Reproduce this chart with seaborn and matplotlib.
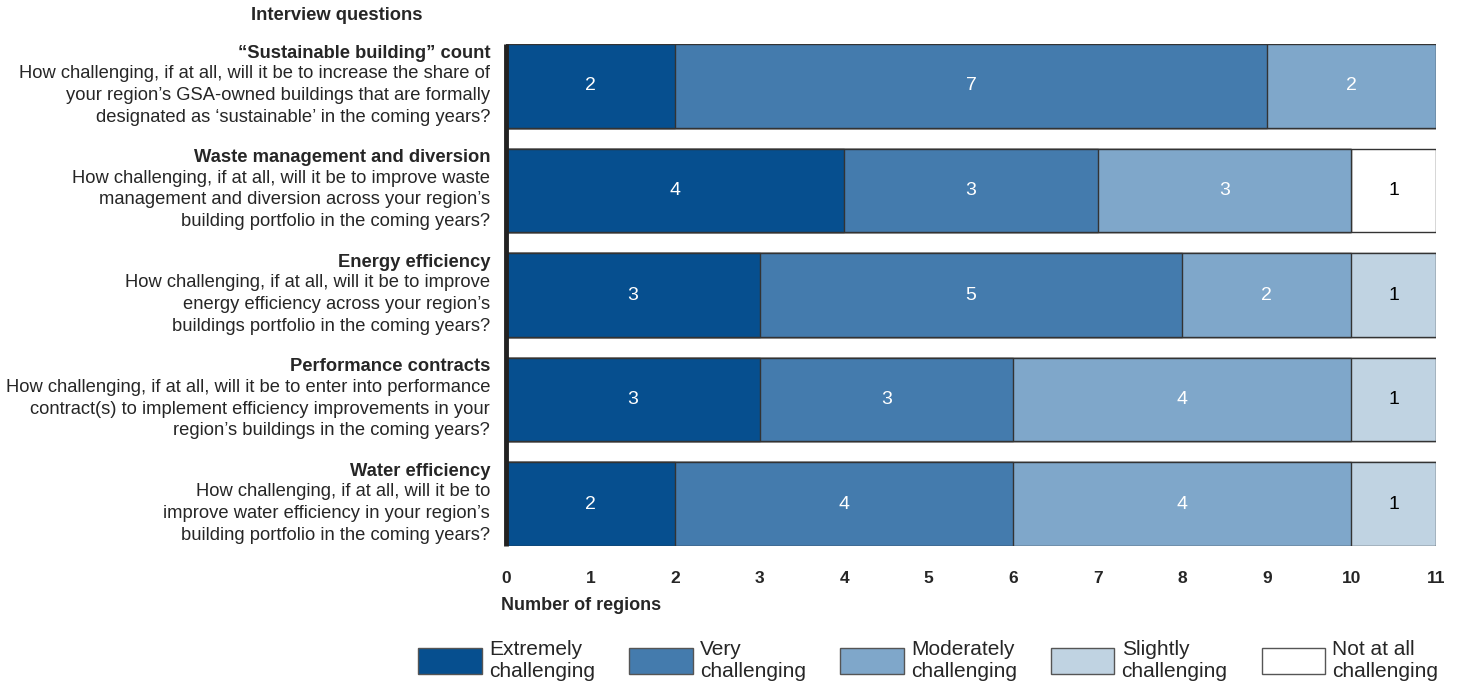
"""Stacked bar chart of interview responses on sustainability challenges."""

import matplotlib.pyplot as plt
import numpy as np
import pandas as pd
import seaborn as sns
from matplotlib.patches import Patch

sns.set_theme(style="white")
plt.rcParams["font.family"] = ["Liberation Sans", "DejaVu Sans"]

TOPICS = [
    "\u201cSustainable building\u201d count",
    "Waste management and diversion",
    "Energy efficiency",
    "Performance contracts",
    "Water efficiency",
]
QUESTIONS = [
    "How challenging, if at all, will it be to increase the share of\n"
    "your region\u2019s GSA-owned buildings that are formally\n"
    "designated as \u2018sustainable\u2019 in the coming years?",
    "How challenging, if at all, will it be to improve waste\n"
    "management and diversion across your region\u2019s\n"
    "building portfolio in the coming years?",
    "How challenging, if at all, will it be to improve\n"
    "energy efficiency across your region\u2019s\n"
    "buildings portfolio in the coming years?",
    "How challenging, if at all, will it be to enter into performance\n"
    "contract(s) to implement efficiency improvements in your\n"
    "region\u2019s buildings in the coming years?",
    "How challenging, if at all, will it be to\n"
    "improve water efficiency in your region\u2019s\n"
    "building portfolio in the coming years?",
]
LEVELS = [
    "Extremely\nchallenging",
    "Very\nchallenging",
    "Moderately\nchallenging",
    "Slightly\nchallenging",
    "Not at all\nchallenging",
]
extremely = [2, 4, 3, 3, 2]
very = [7, 3, 5, 3, 4]
moderately = [2, 3, 2, 4, 4]
slightly = [0, 0, 1, 1, 1]
not_at_all = [0, 1, 0, 0, 0]

COLORS = ["#064F8F", "#447BAD", "#7FA7CA", "#C0D3E2", "#FFFFFF"]
TEXT_COLORS = ["white", "white", "white", "black", "black"]

counts = np.array([extremely, very, moderately, slightly, not_at_all])
cumulative = counts.cumsum(axis=0)

fig = plt.figure(figsize=(14.6, 6.87), dpi=100)
ax = fig.add_axes([506 / 1460, 1 - 546 / 687, 930 / 1460, 502 / 687])

# overlay cumulative bars, widest first, so each level shows as a segment
for i in range(len(LEVELS) - 1, -1, -1):
    df = pd.DataFrame({"topic": TOPICS, "value": cumulative[i]})
    sns.barplot(
        data=df, x="value", y="topic", orient="h", color=COLORS[i],
        saturation=1, width=0.8, edgecolor="#333333", linewidth=1, ax=ax,
    )

for i in range(len(LEVELS)):
    starts = cumulative[i] - counts[i]
    for row, (start, n) in enumerate(zip(starts, counts[i])):
        if n > 0:
            ax.text(start + n / 2, row, str(n), ha="center", va="center",
                    fontsize=14, color=TEXT_COLORS[i])

ax.set_xlim(0, 11)
ax.set_ylim(4.4, -0.4)
ax.set_xticks(range(12))
ax.tick_params(axis="x", length=0, pad=18, labelsize=12.5)
for lbl in ax.get_xticklabels():
    lbl.set_fontweight("bold")
ax.set_yticks([])
ax.set_xlabel("")
ax.set_ylabel("")
for side in ["top", "right", "bottom"]:
    ax.spines[side].set_visible(False)
ax.spines["left"].set_linewidth(3.5)
ax.spines["left"].set_color("#222222")
ax.spines["left"].set_capstyle("butt")
ax.spines["left"].set_zorder(5)

# question labels on the left
for row, (topic, question) in enumerate(zip(TOPICS, QUESTIONS)):
    ax.annotate(topic, xy=(0, row - 0.4), xycoords=("axes fraction", "data"),
                xytext=(-16, -9), textcoords="offset pixels", ha="right",
                va="center", fontsize=13.2, fontweight="bold")
    ax.annotate(question, xy=(0, row - 0.4), xycoords=("axes fraction", "data"),
                xytext=(-16, -21), textcoords="offset pixels", ha="right",
                va="top", fontsize=13.2, linespacing=1.37)

fig.text(251 / 1460, 1 - 16 / 687, "Interview questions", ha="left",
         va="center", fontsize=13.2, fontweight="bold")
fig.text(501 / 1460, 1 - 605 / 687, "Number of regions", ha="left",
         va="center", fontsize=13, fontweight="bold")

handles = [Patch(facecolor=c, edgecolor="#555555", linewidth=1) for c in COLORS]
fig.legend(handles, LEVELS, loc="lower left",
           bbox_to_anchor=(408 / 1460, -4 / 687),
           ncol=5, frameon=False, fontsize=15, handlelength=3.05,
           handleheight=1.55, handletextpad=0.35, columnspacing=1.63,
           borderaxespad=0.1, labelspacing=0.2)

fig.savefig("out.png", dpi=100)
